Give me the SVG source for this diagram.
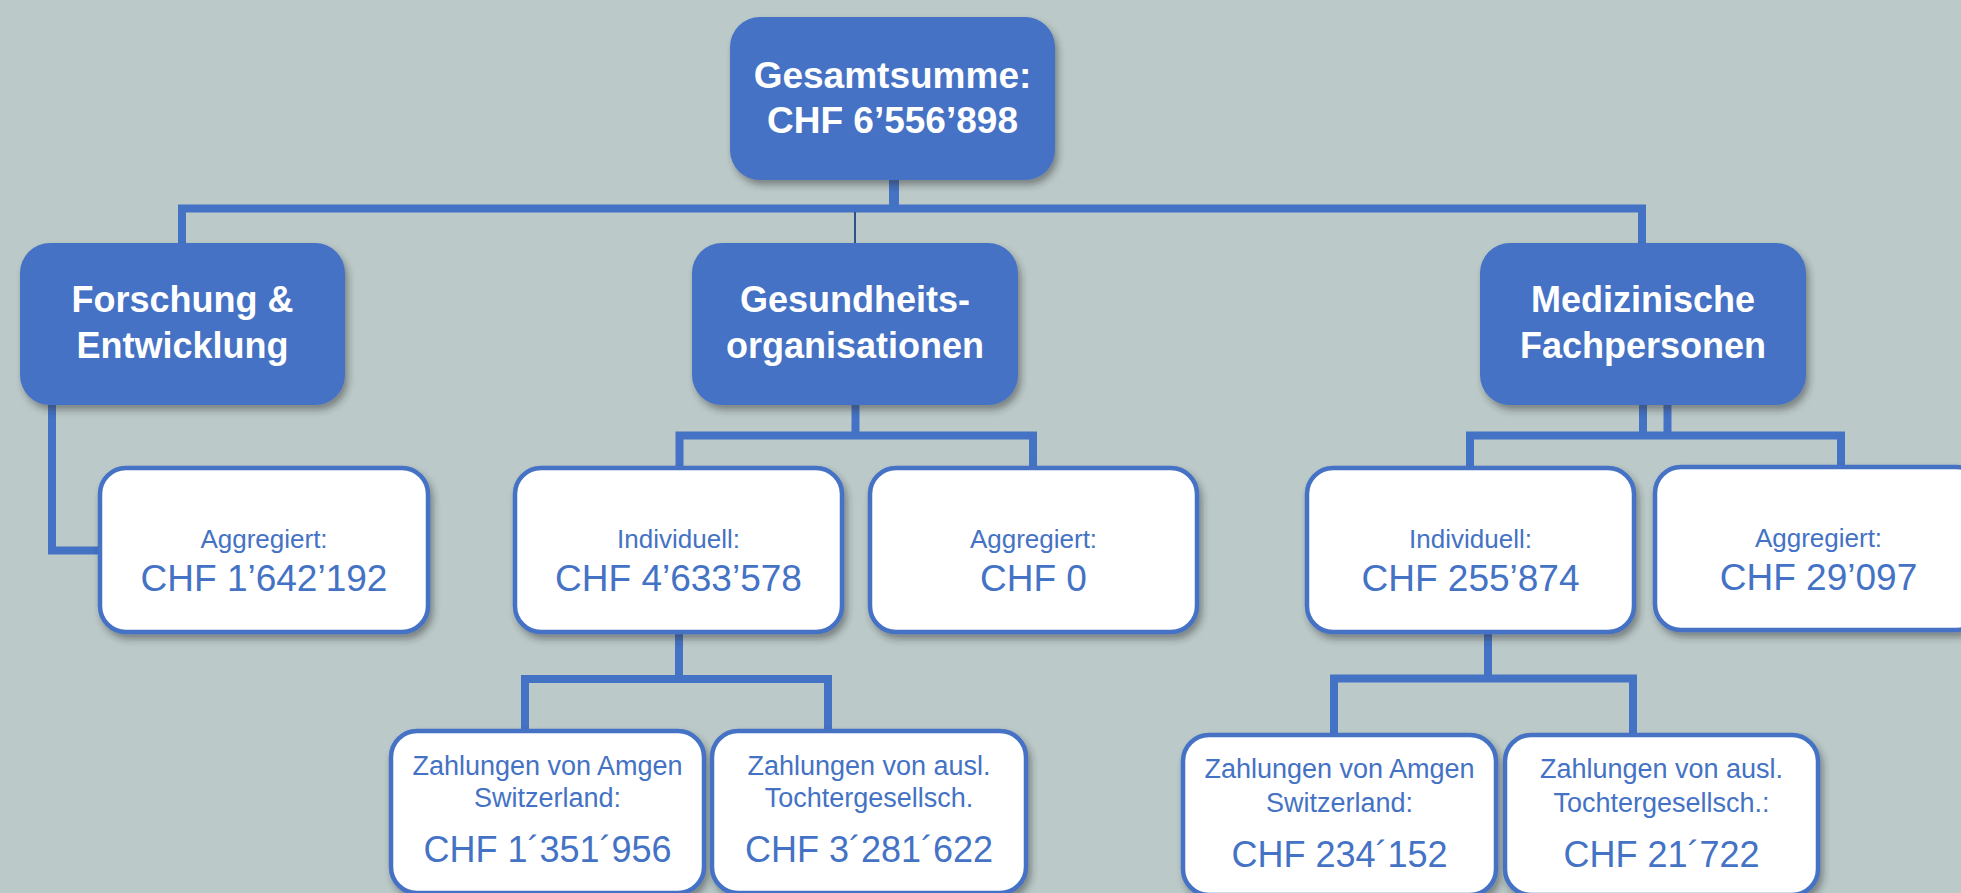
<svg xmlns="http://www.w3.org/2000/svg" width="1961" height="893" viewBox="0 0 1961 893">
<defs>
<filter id="sh" x="-10%" y="-10%" width="125%" height="130%">
<feDropShadow dx="3" dy="5" stdDeviation="3.5" flood-color="#2b2b2b" flood-opacity="0.45"/>
</filter>
<style>
.bg{fill:#BBC9C9}
.main rect{fill:#4472C4;filter:url(#sh)}
.sub rect{fill:#FFFFFF;stroke:#4472C4;stroke-width:4.5;filter:url(#sh)}
.tb{font-family:"Liberation Sans",Arial,sans-serif;font-weight:bold;fill:#FFFFFF;text-anchor:middle}
.tl{font-family:"Liberation Sans",Arial,sans-serif;fill:#4472C4;text-anchor:middle}
.c{fill:none;stroke:#4472C4;stroke-width:8;stroke-linejoin:miter;stroke-linecap:butt}
.thin{fill:none;stroke:#2F528F;stroke-width:2}
</style>
</defs>
<rect class="bg" x="0" y="0" width="1961" height="893"/>

<g id="connectors">
<path class="c" d="M894 180 V208.5" style="stroke-width:10"/>
<path class="c" d="M182 243 V208.5 H1642 V243"/>
<path class="thin" d="M855 212 V243"/>
<path class="c" d="M52 405 V550.5 H100"/>
<path class="c" d="M855.5 405 V435.5"/>
<path class="c" d="M679.5 468 V435.5 H1033 V468"/>
<path class="c" d="M1643 405 V435.5"/>
<path class="c" d="M1667.5 405 V435.5"/>
<path class="c" d="M1470 468 V435.5 H1841 V467"/>
<path class="c" d="M679 632 V679"/>
<path class="c" d="M525 733 V679 H828 V733"/>
<path class="c" d="M1488 632 V678.5"/>
<path class="c" d="M1334 735 V678.5 H1633 V735"/>
</g>

<g id="root" class="main">
<rect x="730" y="17" width="325" height="163" rx="30"/>
<text class="tb" x="892.5" y="88" font-size="37">Gesamtsumme:</text>
<text class="tb" x="892.5" y="133" font-size="37">CHF 6’556’898</text>
</g>

<g id="forschung" class="main">
<rect x="20" y="243" width="325" height="162" rx="30"/>
<text class="tb" x="182.5" y="312" font-size="36">Forschung &amp;</text>
<text class="tb" x="182.5" y="358" font-size="36">Entwicklung</text>
</g>

<g id="gesundheit" class="main">
<rect x="692" y="243" width="326" height="162" rx="30"/>
<text class="tb" x="855" y="312" font-size="36">Gesundheits-</text>
<text class="tb" x="855" y="358" font-size="36">organisationen</text>
</g>

<g id="medizin" class="main">
<rect x="1480" y="243" width="326" height="162" rx="30"/>
<text class="tb" x="1643" y="312" font-size="36">Medizinische</text>
<text class="tb" x="1643" y="358" font-size="36">Fachpersonen</text>
</g>

<g id="fe-aggregiert" class="sub">
<rect x="100" y="468" width="328" height="164" rx="26"/>
<text class="tl" x="264" y="548" font-size="26">Aggregiert:</text>
<text class="tl" x="264" y="591" font-size="37">CHF 1’642’192</text>
</g>

<g id="go-individuell" class="sub">
<rect x="515" y="468" width="327" height="164" rx="26"/>
<text class="tl" x="678.5" y="548" font-size="26">Individuell:</text>
<text class="tl" x="678.5" y="591" font-size="37">CHF 4’633’578</text>
</g>

<g id="go-aggregiert" class="sub">
<rect x="870" y="468" width="327" height="164" rx="26"/>
<text class="tl" x="1033.5" y="548" font-size="26">Aggregiert:</text>
<text class="tl" x="1033.5" y="591" font-size="37">CHF 0</text>
</g>

<g id="mf-individuell" class="sub">
<rect x="1307" y="468" width="327" height="164" rx="26"/>
<text class="tl" x="1470.5" y="548" font-size="26">Individuell:</text>
<text class="tl" x="1470.5" y="591" font-size="37">CHF 255’874</text>
</g>

<g id="mf-aggregiert" class="sub">
<rect x="1655" y="467" width="327" height="163" rx="26"/>
<text class="tl" x="1818.5" y="547" font-size="26">Aggregiert:</text>
<text class="tl" x="1818.5" y="590" font-size="37">CHF 29’097</text>
</g>

<g id="go-amgen" class="sub">
<rect x="391" y="731" width="313" height="162" rx="26"/>
<text class="tl" x="547.5" y="775" font-size="27">Zahlungen von Amgen</text>
<text class="tl" x="547.5" y="807" font-size="27">Switzerland:</text>
<text class="tl" x="547.5" y="862" font-size="36">CHF 1´351´956</text>
</g>

<g id="go-ausl" class="sub">
<rect x="712" y="731" width="314" height="162" rx="26"/>
<text class="tl" x="869" y="775" font-size="27">Zahlungen von ausl.</text>
<text class="tl" x="869" y="807" font-size="27">Tochtergesellsch.</text>
<text class="tl" x="869" y="862" font-size="36">CHF 3´281´622</text>
</g>

<g id="mf-amgen" class="sub">
<rect x="1183" y="735" width="313" height="160" rx="26"/>
<text class="tl" x="1339.5" y="778" font-size="27">Zahlungen von Amgen</text>
<text class="tl" x="1339.5" y="812" font-size="27">Switzerland:</text>
<text class="tl" x="1339.5" y="867" font-size="36">CHF 234´152</text>
</g>

<g id="mf-ausl" class="sub">
<rect x="1505" y="735" width="313" height="160" rx="26"/>
<text class="tl" x="1661.5" y="778" font-size="27">Zahlungen von ausl.</text>
<text class="tl" x="1661.5" y="812" font-size="27">Tochtergesellsch.:</text>
<text class="tl" x="1661.5" y="867" font-size="36">CHF 21´722</text>
</g>
</svg>
